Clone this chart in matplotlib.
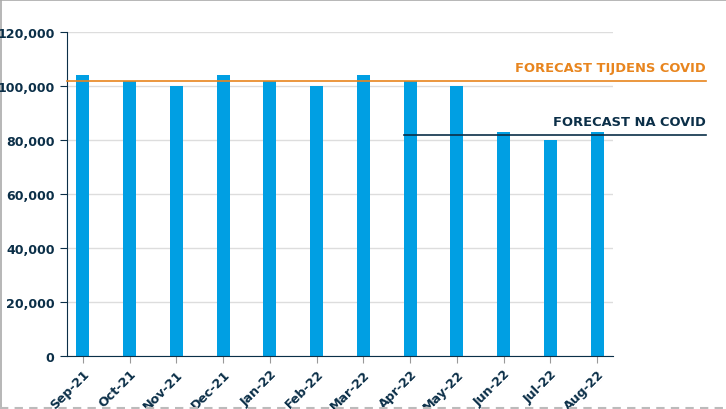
import matplotlib
matplotlib.use("Agg")
import matplotlib.pyplot as plt
from matplotlib.lines import Line2D
from matplotlib.ticker import FuncFormatter
from matplotlib.transforms import blended_transform_factory

months = ["Sep-21", "Oct-21", "Nov-21", "Dec-21", "Jan-22", "Feb-22",
          "Mar-22", "Apr-22", "May-22", "Jun-22", "Jul-22", "Aug-22"]
values = [104000, 102000, 100000, 104000, 102000, 100000,
          104000, 102000, 100000, 83000, 80000, 83000]
forecast_during = 102000
forecast_after = 82000
forecast_after_start = "Apr-22"
label_during = "FORECAST TIJDENS COVID"
label_after = "FORECAST NA COVID"

BLUE = "#009FE3"
ORANGE = "#E8851E"
NAVY = "#0B2F48"
FS = 9.4
FS_TICK = 9.1

fig = plt.figure(figsize=(7.26, 4.10), dpi=100)
ax = fig.add_axes([67/726, 53/410, 546/726, 324/410])

x = list(range(len(months)))
bw = 0.28
ax.bar(x, values, width=bw, color=BLUE, zorder=2)
ax.set_xlim(-0.34, len(months) - 1 + 0.34)
ax.set_ylim(0, 120000)
ax.set_yticks(range(0, 120001, 20000))
ax.yaxis.set_major_formatter(FuncFormatter(lambda v, p: f"{int(v):,}"))
ax.grid(axis="y", color="#DDDDDD", linewidth=1, zorder=0)
ax.set_axisbelow(True)
for s in ["top", "right"]:
    ax.spines[s].set_visible(False)
ax.spines["left"].set_color(NAVY)
ax.spines["bottom"].set_color(NAVY)
ax.set_xticks(x)
ax.set_xticklabels(months, rotation=45, ha="right", rotation_mode="anchor",
                   fontsize=FS_TICK, fontweight="bold", color=NAVY)
ax.tick_params(axis="x", colors="#999999", length=5, labelcolor=NAVY, pad=3)
ax.tick_params(axis="y", colors=NAVY, length=5, labelsize=FS_TICK, pad=4)
for t in ax.get_yticklabels():
    t.set_fontweight("bold")

xend = 706/726
bt = blended_transform_factory(fig.transFigure, ax.transData)
ax_left = 67/726
ax.add_line(Line2D([ax_left, xend], [forecast_during]*2, transform=bt,
                   color=ORANGE, linewidth=1.2, clip_on=False, zorder=3))
i0 = months.index(forecast_after_start)
x_start_disp = ax.transData.transform((i0 - bw/2, 0))[0]
x_start_fig = fig.transFigure.inverted().transform((x_start_disp, 0))[0]
ax.add_line(Line2D([x_start_fig, xend], [forecast_after]*2, transform=bt,
                   color=NAVY, linewidth=1.2, clip_on=False, zorder=3))
ax.text(xend, forecast_during + 2300, label_during, transform=bt, ha="right",
        va="bottom", color=ORANGE, fontsize=FS, fontweight="bold")
ax.text(xend, forecast_after + 2300, label_after, transform=bt, ha="right",
        va="bottom", color=NAVY, fontsize=FS, fontweight="bold")

fig.add_artist(Line2D([0.5/726, 0.5/726], [0, 1], color="#AAAAAA", lw=1.2, transform=fig.transFigure, zorder=0))
fig.add_artist(Line2D([0, 1], [1 - 0.5/410, 1 - 0.5/410], color="#AAAAAA", lw=1.2, transform=fig.transFigure))
fig.add_artist(Line2D([0, 1], [1/410, 1/410], color="#BBBBBB", lw=1.5, ls=(0, (4, 3)), transform=fig.transFigure))

fig.savefig("out.png", dpi=100)
